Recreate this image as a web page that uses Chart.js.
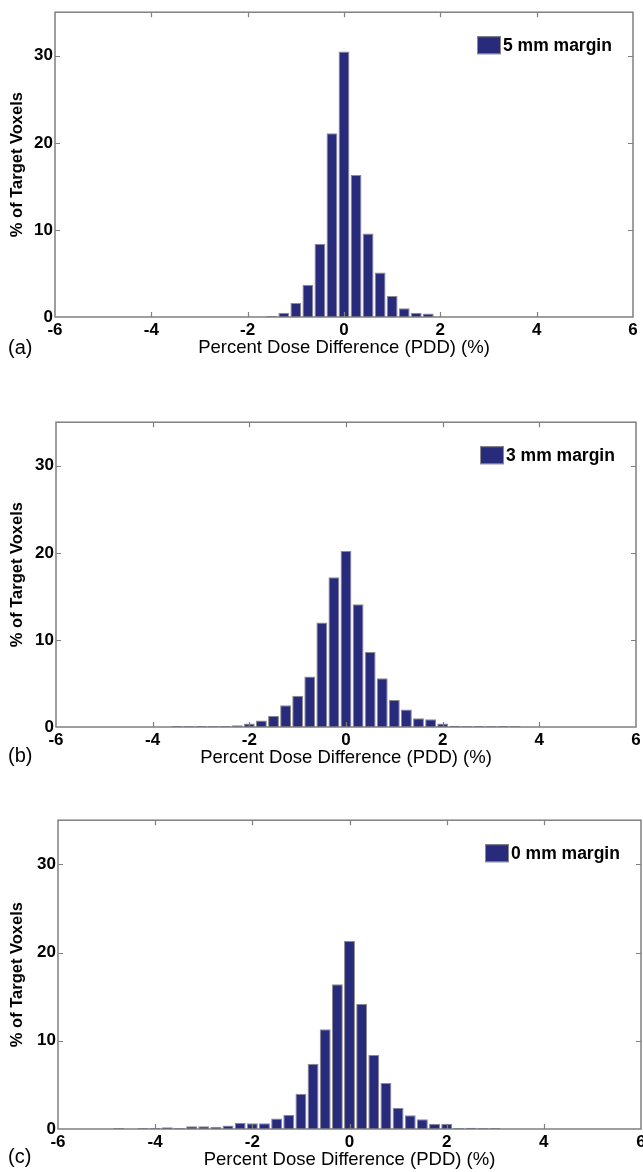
<!DOCTYPE html>
<html>
<head>
<meta charset="utf-8">
<script src="https://cdn.jsdelivr.net/npm/chart.js@4/dist/chart.umd.min.js"></script>
<style>
  html, body { margin: 0; padding: 0; background: #fff; overflow: hidden; }
  body { width: 643px; height: 1172px; position: relative; }
  .panel { position: absolute; left: 0; }
  .tag { position: absolute; left: 8px; font: 20px "Liberation Sans", Arial, sans-serif; line-height: 20px; color: #000; }
</style>
</head>
<body>
<div class="panel" id="boxA" style="top:0px;width:643px;height:360px"><canvas id="chartA"></canvas></div>
<div class="panel" id="boxB" style="top:410px;width:650px;height:360px"><canvas id="chartB"></canvas></div>
<div class="panel" id="boxC" style="top:808px;width:650px;height:364px"><canvas id="chartC"></canvas></div>
<div class="tag" style="top:337px">(a)</div>
<div class="tag" style="top:745px">(b)</div>
<div class="tag" style="top:1146px">(c)</div>
<script>
"use strict";

// bin centres (PDD %) and % of target voxels
const binsA = [-1.5, -1.25, -1.0, -0.75, -0.5, -0.25, 0, 0.25, 0.5, 0.75, 1.0, 1.25, 1.5, 1.75];
const pctA = [0.12, 0.5, 1.6, 3.7, 8.4, 21.1, 30.5, 16.3, 9.6, 5.1, 2.4, 1.0, 0.5, 0.4];

const binsB = [-3.5, -3.25, -3.0, -2.75, -2.5, -2.25, -2.0, -1.75, -1.5, -1.25, -1.0, -0.75, -0.5, -0.25,
  0, 0.25, 0.5, 0.75, 1.0, 1.25, 1.5, 1.75, 2.0, 2.25, 2.5, 2.75, 3.0, 3.25, 3.5];
const pctB = [0.12, 0.12, 0.12, 0.12, 0.12, 0.2, 0.4, 0.75, 1.3, 2.5, 3.6, 5.8, 12.0, 17.2,
  20.2, 14.1, 8.6, 5.6, 3.1, 2.0, 1.0, 0.9, 0.4, 0.15, 0.12, 0.12, 0.12, 0.12, 0.12];

const binsC = [-4.75, -4.5, -4.25, -4.0, -3.75, -3.5, -3.25, -3.0, -2.75, -2.5, -2.25, -2.0, -1.75, -1.5,
  -1.25, -1.0, -0.75, -0.5, -0.25, 0, 0.25, 0.5, 0.75, 1.0, 1.25, 1.5, 1.75, 2.0, 2.25, 2.5, 2.75, 3.0];
const pctC = [0.12, 0, 0.12, 0.12, 0.2, 0.12, 0.3, 0.3, 0.25, 0.4, 0.7, 0.65, 0.65, 1.2,
  1.6, 4.0, 7.4, 11.3, 16.4, 21.3, 14.2, 8.4, 5.2, 2.4, 1.55, 1.1, 0.6, 0.6, 0.12, 0.15, 0.12, 0.12];

const xTicks = [-6, -4, -2, 0, 2, 4, 6];
const yTicks = [0, 10, 20, 30];
const legendLabels = ["5 mm margin", "3 mm margin", "0 mm margin"];

const FONT = "'Liberation Sans', Arial, sans-serif";
const barColor = "#282a7c";
const axisColor = "#7f7f7f";

// matlab-ish box, inward ticks and legend drawn on the chart area
const matlabAxes = {
  id: "matlabAxes",
  afterDraw(chart) {
    const { ctx, chartArea: a, scales: { x, y } } = chart;
    ctx.save();
    ctx.strokeStyle = axisColor;
    ctx.lineWidth = 1.5;
    ctx.strokeRect(a.left, a.top, a.right - a.left, a.bottom - a.top);

    ctx.lineWidth = 1.2;
    ctx.beginPath();
    x.ticks.forEach((t) => {
      const px = Math.round(x.getPixelForValue(t.value)) + 0.5;
      if (px <= a.left + 2 || px >= a.right - 2) return;
      ctx.moveTo(px, a.bottom);
      ctx.lineTo(px, a.bottom - 5);
      ctx.moveTo(px, a.top);
      ctx.lineTo(px, a.top + 5);
    });
    y.ticks.forEach((t) => {
      const py = Math.round(y.getPixelForValue(t.value)) + 0.5;
      if (py >= a.bottom - 2) return;
      ctx.moveTo(a.left, py);
      ctx.lineTo(a.left + 5, py);
      ctx.moveTo(a.right, py);
      ctx.lineTo(a.right - 5, py);
    });
    ctx.stroke();

    const ds = chart.data.datasets[0];
    const lx = a.right - 156;
    const ly = a.top + 24;
    ctx.fillStyle = ds.backgroundColor;
    ctx.fillRect(lx, ly, 24, 18);
    ctx.strokeStyle = "#8c8c8c";
    ctx.lineWidth = 1;
    ctx.strokeRect(lx + 0.5, ly + 0.5, 23, 17);
    ctx.fillStyle = "#000";
    ctx.font = "bold 17.5px " + FONT;
    ctx.textAlign = "left";
    ctx.textBaseline = "middle";
    ctx.fillText(ds.label, lx + 26, ly + 10);
    ctx.restore();
  },
};

function createHistogram(canvasId, bins, values, label, box) {
  const ctx = document.getElementById(canvasId).getContext("2d");
  const points = bins.map((b, i) => ({ x: b, y: values[i] }));
  return new Chart(ctx, {
    type: "bar",
    data: {
      datasets: [
        {
          label: label,
          data: points,
          backgroundColor: barColor,
          borderColor: "#8c8c8c",
          borderWidth: 1,
          barPercentage: 0.9,
          categoryPercentage: 1.0,
        },
      ],
    },
    options: {
      responsive: true,
      maintainAspectRatio: false,
      animation: false,
      layout: { padding: { top: 11, right: box.padRight, left: 0, bottom: 0 } },
      plugins: { legend: { display: false }, tooltip: { enabled: false } },
      scales: {
        x: {
          type: "linear",
          offset: false,
          min: -6,
          max: 6,
          afterBuildTicks: (scale) => {
            scale.ticks = xTicks.map((v) => ({ value: v }));
          },
          ticks: { font: { family: FONT, size: 17, weight: "bold" }, color: "#000", padding: 3, maxRotation: 0 },
          grid: { display: false, drawTicks: false, offset: false },
          border: { display: false },
          title: {
            display: true,
            text: "Percent Dose Difference (PDD) (%)",
            font: { family: FONT, size: 18.5 },
            color: "#000",
            padding: { top: 0, bottom: 1 },
          },
          afterFit: (scale) => {
            scale.height = 43;
          },
        },
        y: {
          min: 0,
          max: 35,
          afterBuildTicks: (scale) => {
            scale.ticks = yTicks.map((v) => ({ value: v }));
          },
          ticks: { font: { family: FONT, size: 17, weight: "bold" }, color: "#000", padding: 2 },
          grid: { display: false, drawTicks: false },
          border: { display: false },
          title: {
            display: true,
            text: "% of Target Voxels",
            font: { family: FONT, size: 16.5, weight: "bold" },
            color: "#000",
            padding: { top: 8, bottom: 0 },
          },
          afterFit: (scale) => {
            scale.width = box.plotLeft;
          },
        },
      },
    },
    plugins: [matlabAxes],
  });
}

createHistogram("chartA", binsA, pctA, legendLabels[0], { plotLeft: 55, padRight: 10 });
createHistogram("chartB", binsB, pctB, legendLabels[1], { plotLeft: 56, padRight: 14 });
createHistogram("chartC", binsC, pctC, legendLabels[2], { plotLeft: 58, padRight: 9 });
</script>
</body>
</html>
